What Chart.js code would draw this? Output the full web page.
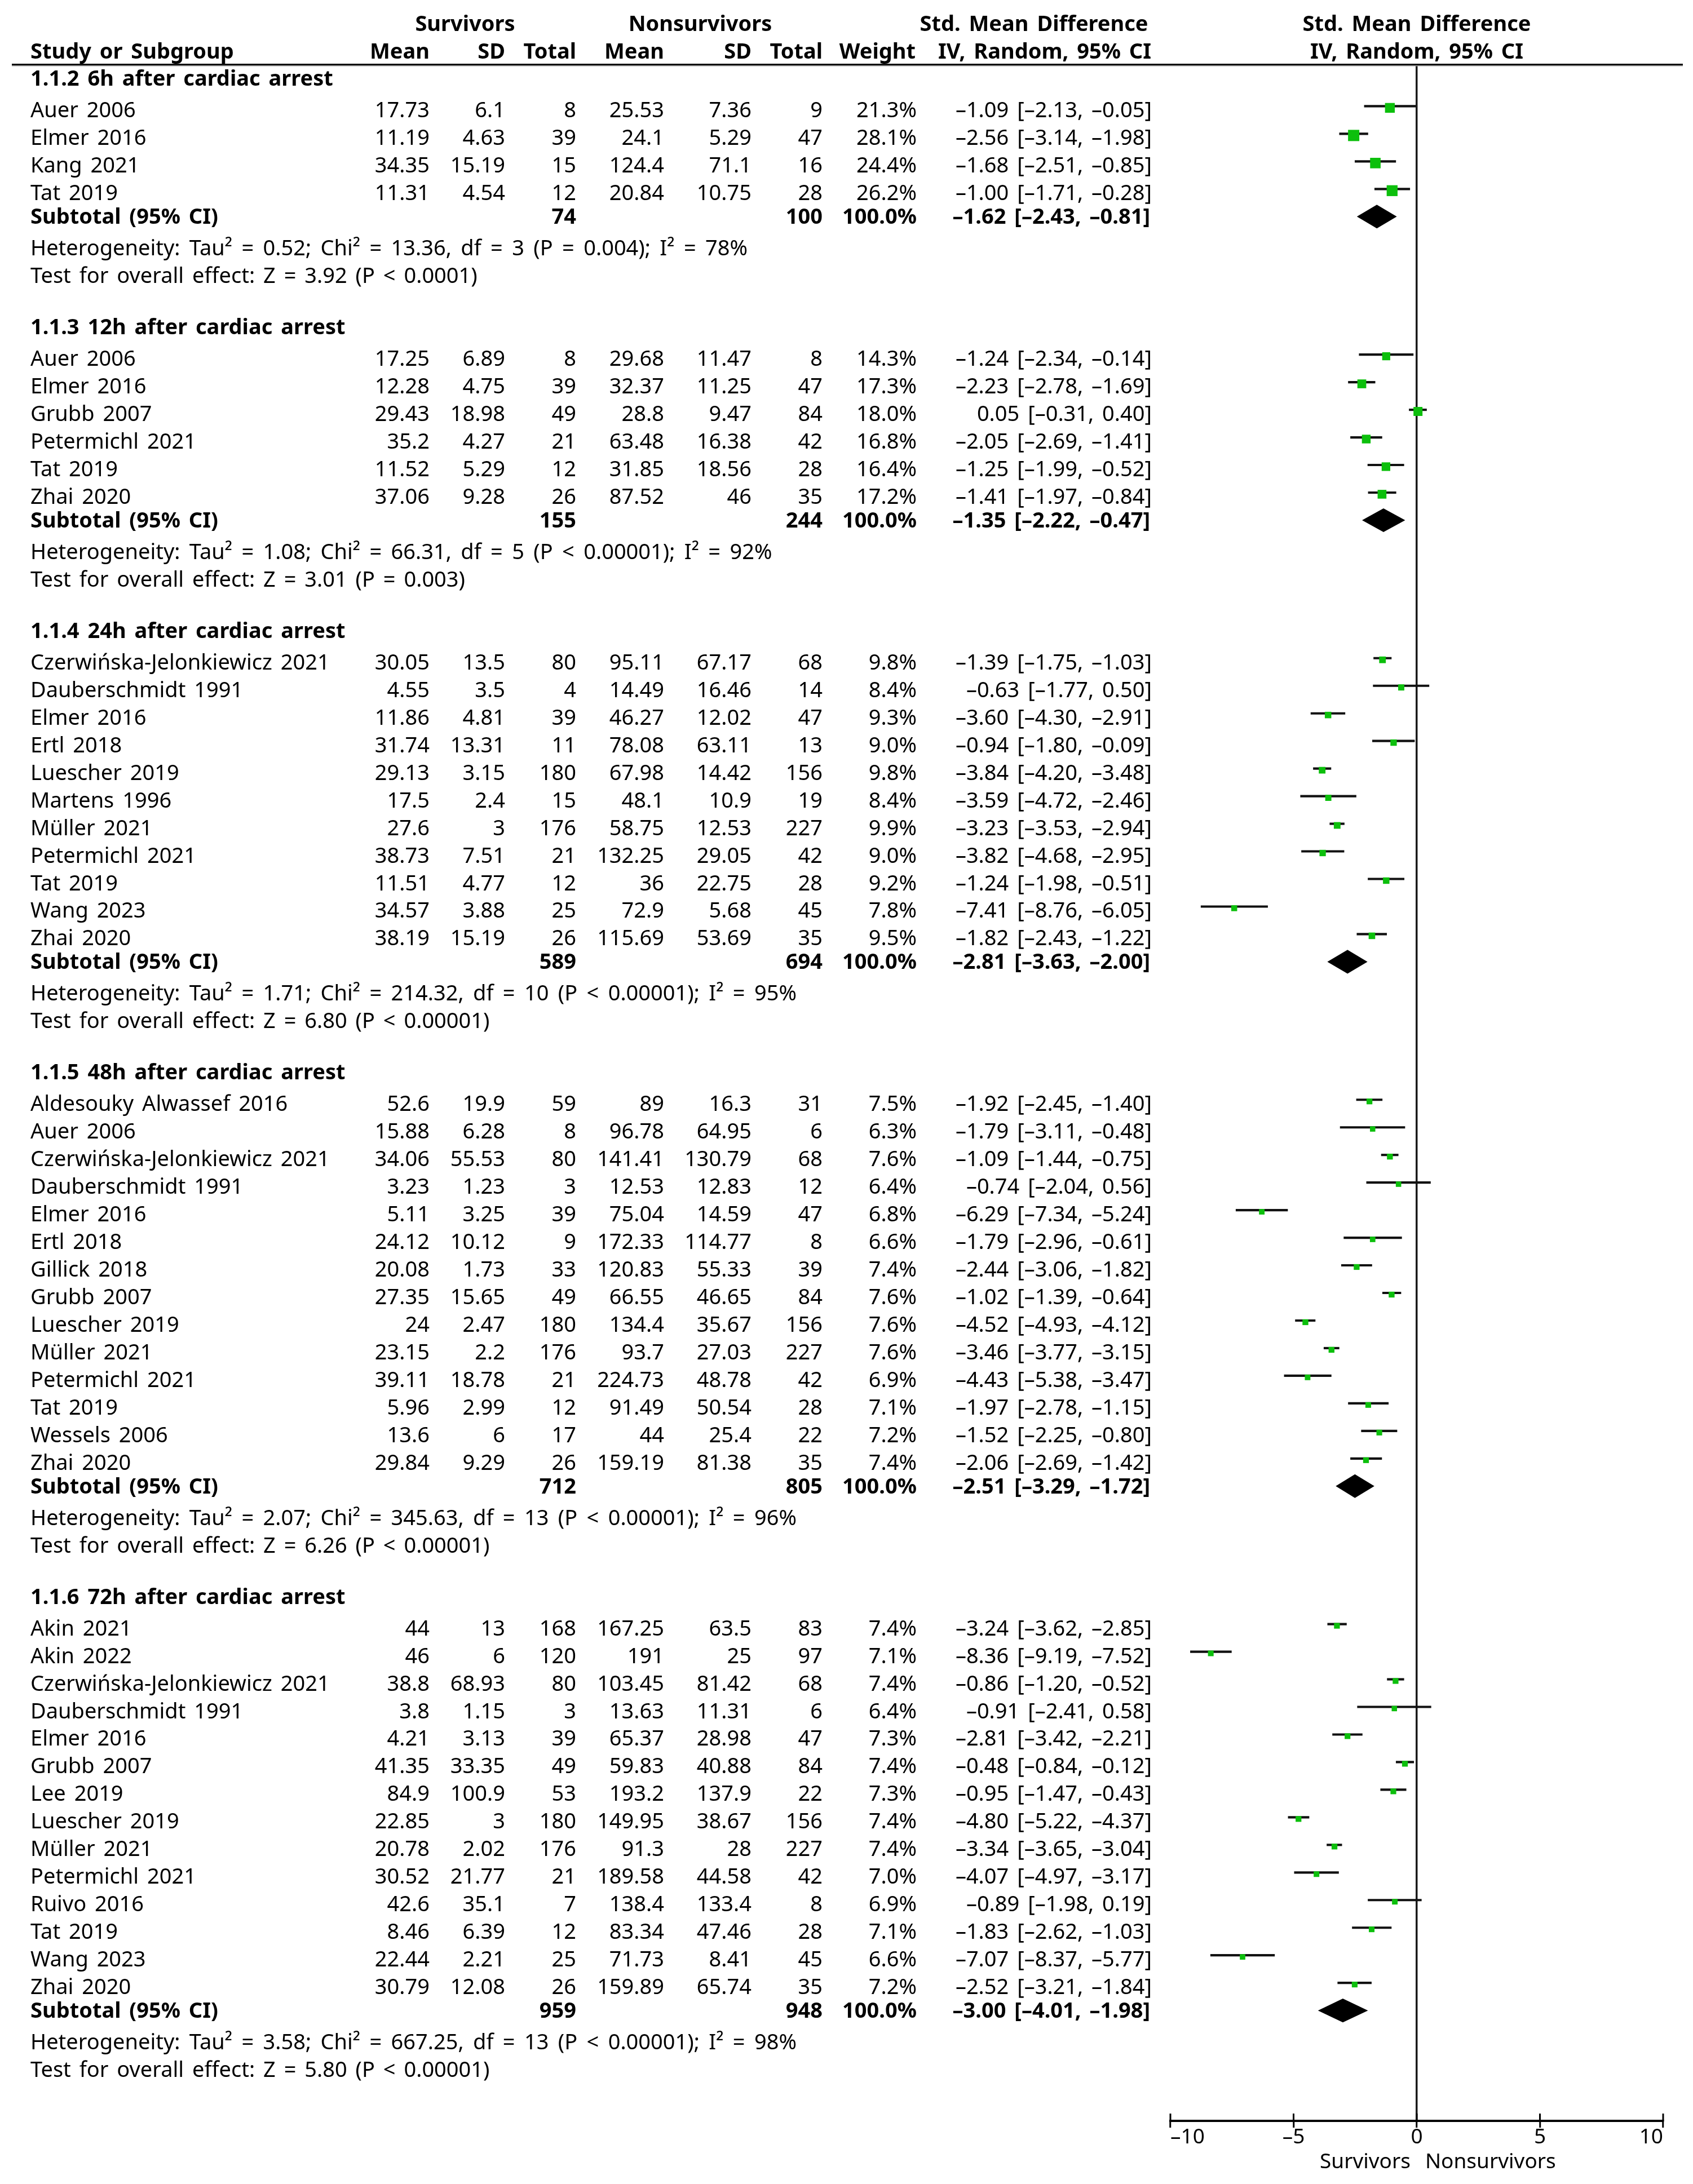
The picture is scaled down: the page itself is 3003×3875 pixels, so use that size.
<!DOCTYPE html>
<html>
<head>
<meta charset="utf-8">
<title>Forest plot</title>
<script src="https://cdn.jsdelivr.net/npm/chart.js@4.4.1/dist/chart.umd.min.js"></script>
<style>
  html, body { margin: 0; padding: 0; background: #fff; }
  #chart { display: block; }
</style>
</head>
<body>
<canvas id="chart" width="3003" height="3875"></canvas>
<script>
'use strict';

// subgroups
var groups = ['1.1.2 6h after cardiac arrest', '1.1.3 12h after cardiac arrest', '1.1.4 24h after cardiac arrest',
    '1.1.5 48h after cardiac arrest', '1.1.6 72h after cardiac arrest'];
var subSurvTotal = [74, 155, 589, 712, 959];
var subNonTotal = [100, 244, 694, 805, 948];
var subSmd = [-1.62, -1.35, -2.81, -2.51, -3.00];
var subLow = [-2.43, -2.22, -3.63, -3.29, -4.01];
var subHigh = [-0.81, -0.47, -2.00, -1.72, -1.98];
var hetTau2 = [0.52, 1.08, 1.71, 2.07, 3.58];
var hetChi2 = [13.36, 66.31, 214.32, 345.63, 667.25];
var hetDf = [3, 5, 10, 13, 13];
var hetP = ['= 0.004', '< 0.00001', '< 0.00001', '< 0.00001', '< 0.00001'];
var hetI2 = [78, 92, 95, 96, 98];
var overallZ = [3.92, 3.01, 6.80, 6.26, 5.80];
var overallP = ['< 0.0001', '= 0.003', '< 0.00001', '< 0.00001', '< 0.00001'];

// studies, in display order
var studyGroup = [0, 0, 0, 0,
    1, 1, 1, 1, 1, 1,
    2, 2, 2, 2, 2, 2, 2, 2, 2, 2, 2,
    3, 3, 3, 3, 3, 3, 3, 3, 3, 3, 3, 3, 3, 3,
    4, 4, 4, 4, 4, 4, 4, 4, 4, 4, 4, 4, 4, 4];
var studyNames = ['Auer 2006', 'Elmer 2016', 'Kang 2021', 'Tat 2019',
    'Auer 2006', 'Elmer 2016', 'Grubb 2007', 'Petermichl 2021', 'Tat 2019', 'Zhai 2020',
    'Czerwińska-Jelonkiewicz 2021', 'Dauberschmidt 1991', 'Elmer 2016', 'Ertl 2018', 'Luescher 2019', 'Martens 1996',
    'Müller 2021', 'Petermichl 2021', 'Tat 2019', 'Wang 2023', 'Zhai 2020',
    'Aldesouky Alwassef 2016', 'Auer 2006', 'Czerwińska-Jelonkiewicz 2021', 'Dauberschmidt 1991', 'Elmer 2016',
    'Ertl 2018', 'Gillick 2018', 'Grubb 2007', 'Luescher 2019', 'Müller 2021', 'Petermichl 2021', 'Tat 2019',
    'Wessels 2006', 'Zhai 2020',
    'Akin 2021', 'Akin 2022', 'Czerwińska-Jelonkiewicz 2021', 'Dauberschmidt 1991', 'Elmer 2016', 'Grubb 2007',
    'Lee 2019', 'Luescher 2019', 'Müller 2021', 'Petermichl 2021', 'Ruivo 2016', 'Tat 2019', 'Wang 2023', 'Zhai 2020'];
var survMean = [17.73, 11.19, 34.35, 11.31,
    17.25, 12.28, 29.43, 35.2, 11.52, 37.06,
    30.05, 4.55, 11.86, 31.74, 29.13, 17.5, 27.6, 38.73, 11.51, 34.57, 38.19,
    52.6, 15.88, 34.06, 3.23, 5.11, 24.12, 20.08, 27.35, 24, 23.15, 39.11, 5.96, 13.6, 29.84,
    44, 46, 38.8, 3.8, 4.21, 41.35, 84.9, 22.85, 20.78, 30.52, 42.6, 8.46, 22.44, 30.79];
var survSD = [6.1, 4.63, 15.19, 4.54,
    6.89, 4.75, 18.98, 4.27, 5.29, 9.28,
    13.5, 3.5, 4.81, 13.31, 3.15, 2.4, 3, 7.51, 4.77, 3.88, 15.19,
    19.9, 6.28, 55.53, 1.23, 3.25, 10.12, 1.73, 15.65, 2.47, 2.2, 18.78, 2.99, 6, 9.29,
    13, 6, 68.93, 1.15, 3.13, 33.35, 100.9, 3, 2.02, 21.77, 35.1, 6.39, 2.21, 12.08];
var survTotal = [8, 39, 15, 12,
    8, 39, 49, 21, 12, 26,
    80, 4, 39, 11, 180, 15, 176, 21, 12, 25, 26,
    59, 8, 80, 3, 39, 9, 33, 49, 180, 176, 21, 12, 17, 26,
    168, 120, 80, 3, 39, 49, 53, 180, 176, 21, 7, 12, 25, 26];
var nonMean = [25.53, 24.1, 124.4, 20.84,
    29.68, 32.37, 28.8, 63.48, 31.85, 87.52,
    95.11, 14.49, 46.27, 78.08, 67.98, 48.1, 58.75, 132.25, 36, 72.9, 115.69,
    89, 96.78, 141.41, 12.53, 75.04, 172.33, 120.83, 66.55, 134.4, 93.7, 224.73, 91.49, 44, 159.19,
    167.25, 191, 103.45, 13.63, 65.37, 59.83, 193.2, 149.95, 91.3, 189.58, 138.4, 83.34, 71.73, 159.89];
var nonSD = [7.36, 5.29, 71.1, 10.75,
    11.47, 11.25, 9.47, 16.38, 18.56, 46,
    67.17, 16.46, 12.02, 63.11, 14.42, 10.9, 12.53, 29.05, 22.75, 5.68, 53.69,
    16.3, 64.95, 130.79, 12.83, 14.59, 114.77, 55.33, 46.65, 35.67, 27.03, 48.78, 50.54, 25.4, 81.38,
    63.5, 25, 81.42, 11.31, 28.98, 40.88, 137.9, 38.67, 28, 44.58, 133.4, 47.46, 8.41, 65.74];
var nonTotal = [9, 47, 16, 28,
    8, 47, 84, 42, 28, 35,
    68, 14, 47, 13, 156, 19, 227, 42, 28, 45, 35,
    31, 6, 68, 12, 47, 8, 39, 84, 156, 227, 42, 28, 22, 35,
    83, 97, 68, 6, 47, 84, 22, 156, 227, 42, 8, 28, 45, 35];
var weight = [21.3, 28.1, 24.4, 26.2,
    14.3, 17.3, 18.0, 16.8, 16.4, 17.2,
    9.8, 8.4, 9.3, 9.0, 9.8, 8.4, 9.9, 9.0, 9.2, 7.8, 9.5,
    7.5, 6.3, 7.6, 6.4, 6.8, 6.6, 7.4, 7.6, 7.6, 7.6, 6.9, 7.1, 7.2, 7.4,
    7.4, 7.1, 7.4, 6.4, 7.3, 7.4, 7.3, 7.4, 7.4, 7.0, 6.9, 7.1, 6.6, 7.2];
var smd = [-1.09, -2.56, -1.68, -1.00,
    -1.24, -2.23, 0.05, -2.05, -1.25, -1.41,
    -1.39, -0.63, -3.60, -0.94, -3.84, -3.59, -3.23, -3.82, -1.24, -7.41, -1.82,
    -1.92, -1.79, -1.09, -0.74, -6.29, -1.79, -2.44, -1.02, -4.52, -3.46, -4.43, -1.97, -1.52, -2.06,
    -3.24, -8.36, -0.86, -0.91, -2.81, -0.48, -0.95, -4.80, -3.34, -4.07, -0.89, -1.83, -7.07, -2.52];
var ciLow = [-2.13, -3.14, -2.51, -1.71,
    -2.34, -2.78, -0.31, -2.69, -1.99, -1.97,
    -1.75, -1.77, -4.30, -1.80, -4.20, -4.72, -3.53, -4.68, -1.98, -8.76, -2.43,
    -2.45, -3.11, -1.44, -2.04, -7.34, -2.96, -3.06, -1.39, -4.93, -3.77, -5.38, -2.78, -2.25, -2.69,
    -3.62, -9.19, -1.20, -2.41, -3.42, -0.84, -1.47, -5.22, -3.65, -4.97, -1.98, -2.62, -8.37, -3.21];
var ciHigh = [-0.05, -1.98, -0.85, -0.28,
    -0.14, -1.69, 0.40, -1.41, -0.52, -0.84,
    -1.03, 0.50, -2.91, -0.09, -3.48, -2.46, -2.94, -2.95, -0.51, -6.05, -1.22,
    -1.40, -0.48, -0.75, 0.56, -5.24, -0.61, -1.82, -0.64, -4.12, -3.15, -3.47, -1.15, -0.80, -1.42,
    -2.85, -7.52, -0.52, 0.58, -2.21, -0.12, -0.43, -4.37, -3.04, -3.17, 0.19, -1.03, -5.77, -1.84];

var xTicks = [-10, -5, 0, 5, 10];

// layout / style
var FAMILY = '"Noto Sans", "Liberation Sans", sans-serif';
var FONT_SIZE = 38;
var AXIS_FONT_SIZE = 37;
var WORD_SPACING = '5px';
var HET_WORD_SPACING = '6.5px';
var BASE_REG = 20;   // baseline below row centre, regular text
var BASE_BOLD = 13;  // baseline below row centre, bold text
var COL = {name: 54, survMean: 762, survSD: 896, survTotal: 1022, nonMean: 1178, nonSD: 1333,
    nonTotal: 1459, weight: 1626, ci: 2043};
var GREEN = '#0cbf0c';
var DIAMOND_HALF = 0.43; // in rows
var SQUARE_DROP = 0.06;  // squares sit a hair below the CI line

var dash = s => s.replace(/-/g, '\u2013');
var f2 = v => dash(v.toFixed(2));
var ciText = (e, lo, hi) => f2(e) + ' [' + f2(lo) + ', ' + f2(hi) + ']';

// row slots: group header, studies, subtotal, heterogeneity, overall effect, blank
var rows = [];
var slot = 0;
groups.forEach((g, gi) => {
    rows.push({kind: 'group', slot: slot++, gi: gi});
    studyNames.forEach((n, i) => {
        if (studyGroup[i] === gi) rows.push({kind: 'study', slot: slot++, i: i, gi: gi});
    });
    rows.push({kind: 'subtotal', slot: slot++, gi: gi});
    rows.push({kind: 'het', slot: slot++, gi: gi});
    rows.push({kind: 'test', slot: slot++, gi: gi});
    slot++;
});
var lastSlot = slot;

var studyRows = rows.filter(r => r.kind === 'study');
var subRows = rows.filter(r => r.kind === 'subtotal');

var ciData = studyRows.map(r => ({x: [ciLow[r.i], ciHigh[r.i]], y: r.slot}));
var pointData = studyRows.map(r => ({x: smd[r.i], y: r.slot + SQUARE_DROP}));
var radii = studyRows.map(r => 3.77 * Math.sqrt(weight[r.i]) / Math.SQRT2);

var forestPlugin = {
    id: 'forestTable',
    afterDatasetsDraw(chart) {
        var ctx = chart.ctx, xs = chart.scales.x, ys = chart.scales.y;
        ctx.save();
        ctx.fillStyle = '#000';
        subRows.forEach(r => {
            var gi = r.gi;
            ctx.beginPath();
            ctx.moveTo(xs.getPixelForValue(subLow[gi]), ys.getPixelForValue(r.slot));
            ctx.lineTo(xs.getPixelForValue(subSmd[gi]), ys.getPixelForValue(r.slot - DIAMOND_HALF));
            ctx.lineTo(xs.getPixelForValue(subHigh[gi]), ys.getPixelForValue(r.slot));
            ctx.lineTo(xs.getPixelForValue(subSmd[gi]), ys.getPixelForValue(r.slot + DIAMOND_HALF));
            ctx.closePath();
            ctx.fill();
        });
        ctx.restore();
    },
    afterDraw(chart) {
        var ctx = chart.ctx, xs = chart.scales.x, ys = chart.scales.y;
        var area = chart.chartArea;
        ctx.save();
        ctx.fillStyle = '#000';
        ctx.textBaseline = 'alphabetic';
        ctx.wordSpacing = WORD_SPACING;

        var txt = (s, px, slotY, bold, align) => {
            ctx.font = (bold ? 'bold ' : '') + FONT_SIZE + 'px ' + FAMILY;
            ctx.textAlign = align || 'right';
            ctx.fillText(s, px, ys.getPixelForValue(slotY) + (bold ? BASE_BOLD : BASE_REG));
        };

        // header
        txt('Survivors', 825, -2, true, 'center');
        txt('Nonsurvivors', 1242, -2, true, 'center');
        txt('Std. Mean Difference', 1834, -2, true, 'center');
        txt('Std. Mean Difference', xs.getPixelForValue(0), -2, true, 'center');
        txt('Study or Subgroup', COL.name, -1, true, 'left');
        txt('Mean', COL.survMean, -1, true);
        txt('SD', COL.survSD, -1, true);
        txt('Total', COL.survTotal, -1, true);
        txt('Mean', COL.nonMean, -1, true);
        txt('SD', COL.nonSD, -1, true);
        txt('Total', COL.nonTotal, -1, true);
        txt('Weight', COL.weight - 2, -1, true);
        txt('IV, Random, 95% CI', COL.ci - 1, -1, true);
        txt('IV, Random, 95% CI', xs.getPixelForValue(0), -1, true, 'center');

        // header rule
        var ry = ys.getPixelForValue(-0.5);
        ctx.fillStyle = '#111';
        ctx.fillRect(21, ry - 2, 2964, 3);
        ctx.fillStyle = '#999';
        ctx.fillRect(21, ry + 1, 2964, 1.5);
        ctx.fillStyle = '#000';

        rows.forEach(r => {
            var gi = r.gi, i = r.i;
            if (r.kind === 'group') {
                txt(groups[gi], COL.name, r.slot, true, 'left');
            } else if (r.kind === 'study') {
                txt(studyNames[i], COL.name, r.slot, false, 'left');
                txt(String(survMean[i]), COL.survMean, r.slot);
                txt(String(survSD[i]), COL.survSD, r.slot);
                txt(String(survTotal[i]), COL.survTotal, r.slot);
                txt(String(nonMean[i]), COL.nonMean, r.slot);
                txt(String(nonSD[i]), COL.nonSD, r.slot);
                txt(String(nonTotal[i]), COL.nonTotal, r.slot);
                txt(weight[i].toFixed(1) + '%', COL.weight, r.slot);
                txt(ciText(smd[i], ciLow[i], ciHigh[i]), COL.ci, r.slot);
            } else if (r.kind === 'subtotal') {
                txt('Subtotal (95% CI)', COL.name, r.slot, true, 'left');
                txt(String(subSurvTotal[gi]), COL.survTotal, r.slot, true);
                txt(String(subNonTotal[gi]), COL.nonTotal, r.slot, true);
                txt('100.0%', COL.weight, r.slot, true);
                txt(ciText(subSmd[gi], subLow[gi], subHigh[gi]), COL.ci - 3, r.slot, true);
            } else if (r.kind === 'het') {
                ctx.wordSpacing = HET_WORD_SPACING;
                txt('Heterogeneity: Tau\u00b2 = ' + hetTau2[gi].toFixed(2) + '; Chi\u00b2 = ' + hetChi2[gi].toFixed(2) +
                    ', df = ' + hetDf[gi] + ' (P ' + hetP[gi] + '); I\u00b2 = ' + hetI2[gi] + '%', COL.name, r.slot, false, 'left');
                ctx.wordSpacing = WORD_SPACING;
            } else if (r.kind === 'test') {
                txt('Test for overall effect: Z = ' + overallZ[gi].toFixed(2) + ' (P ' + overallP[gi] + ')',
                    COL.name, r.slot, false, 'left');
            }
        });

        // upper half of the axis ticks
        ctx.strokeStyle = '#000';
        ctx.lineWidth = 3;
        xTicks.forEach(v => {
            var px = xs.getPixelForValue(v);
            ctx.beginPath();
            ctx.moveTo(px, area.bottom - 13);
            ctx.lineTo(px, area.bottom);
            ctx.stroke();
        });

        // favours labels
        var x0 = xs.getPixelForValue(0);
        ctx.wordSpacing = '0px';
        ctx.font = AXIS_FONT_SIZE + 'px ' + FAMILY;
        ctx.textAlign = 'right';
        ctx.fillText('Survivors', x0 - 11, area.bottom + 84);
        ctx.textAlign = 'left';
        ctx.fillText('Nonsurvivors', x0 + 15, area.bottom + 84);
        ctx.restore();
    }
};

var chart = new Chart(document.getElementById('chart'), {
    type: 'scatter',
    data: {
        datasets: [
            {
                type: 'bar',
                label: '95% CI',
                indexAxis: 'y',
                data: ciData,
                backgroundColor: '#111',
                borderWidth: 0,
                barThickness: 3.5,
                order: 2
            },
            {
                type: 'scatter',
                label: 'Std. Mean Difference',
                data: pointData,
                pointStyle: 'rect',
                pointRadius: radii,
                pointHoverRadius: radii,
                backgroundColor: GREEN,
                borderWidth: 0,
                order: 1
            }
        ]
    },
    options: {
        responsive: false,
        animation: false,
        devicePixelRatio: 1,
        events: [],
        layout: {padding: {left: 2076, right: 53, top: 115, bottom: 0}},
        plugins: {legend: {display: false}, tooltip: {enabled: false}},
        scales: {
            x: {
                type: 'linear',
                min: -10,
                max: 10,
                offset: false,
                position: 'bottom',
                afterBuildTicks: s => { s.ticks = xTicks.map(v => ({value: v})); },
                afterFit: s => { s.height = 112; },
                border: {display: true, color: '#000', width: 4},
                grid: {
                    offset: false,
                    drawOnChartArea: true,
                    color: c => (c.tick && c.tick.value === 0) ? '#1a1a1a' : 'rgba(0,0,0,0)',
                    lineWidth: 3.5,
                    drawTicks: true,
                    tickLength: 12,
                    tickColor: '#000',
                    tickWidth: 3
                },
                ticks: {
                    align: 'inner',
                    padding: -5,
                    color: '#000',
                    font: {family: FAMILY, size: AXIS_FONT_SIZE},
                    callback: v => dash(String(v))
                }
            },
            y: {type: 'linear', min: -0.5, max: lastSlot, offset: false, reverse: true, display: false,
                grid: {offset: false}}
        }
    },
    plugins: [forestPlugin]
});
</script>
</body>
</html>
